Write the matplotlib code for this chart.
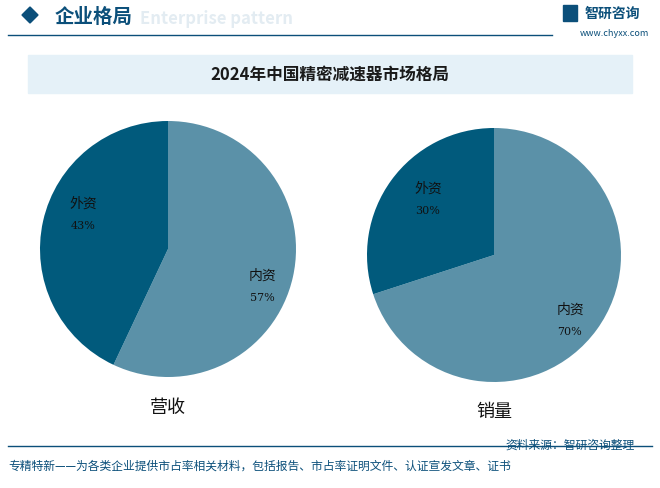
import matplotlib
matplotlib.use("Agg")
import matplotlib.pyplot as plt
from matplotlib.patches import Rectangle, Polygon

plt.rcParams['font.family'] = ['Noto Sans CJK SC']

title = "2024年中国精密减速器市场格局"
labels = ["内资", "外资"]
revenue = [57, 43]
sales = [70, 30]
pie_titles = ["营收", "销量"]
colors = ["#5b91a8", "#015a7c"]

fig = plt.figure(figsize=(6.6, 4.89), dpi=100)
W, H = 660, 489
bg = fig.add_axes([0, 0, 1, 1])
bg.set_xlim(0, W); bg.set_ylim(H, 0); bg.axis("off")

# header
bg.add_patch(Polygon([(22, 16), (30, 8), (38, 16), (30, 24)], color="#0b4f7a"))
bg.text(140, 19, "Enterprise pattern", fontsize=12, color="#e3ecf2", va="center", fontweight="bold")
bg.text(55, 17, "企业格局", fontsize=14, fontweight="bold", color="#0b4f7a", va="center")
bg.plot([8, 552], [36, 36], color="#0b4f7a", lw=1)
bg.text(585, 14, "智研咨询", fontsize=10, fontweight="bold", color="#0b4f7a", va="center")
bg.add_patch(Rectangle((563, 6), 14, 16, color="#0b4f7a"))
bg.text(614, 34, "www.chyxx.com", fontsize=6.5, color="#0b4f7a", va="center", ha="center")

# title band
bg.add_patch(Rectangle((28, 56), 604, 38, color="#e5f1f8"))
bg.text(330, 75, title, fontsize=12, fontweight="bold", color="#1a1a1a", ha="center", va="center")

# footer
bg.plot([8, 652], [447, 447], color="#0b4f7a", lw=1)
bg.text(505, 445, "资料来源：智研咨询整理", fontsize=8.5, color="#0b4f7a", va="center")
bg.text(8, 466, "专精特新——为各类企业提供市占率相关材料，包括报告、市占率证明文件、认证宣发文章、证书",
        fontsize=8.5, color="#0b4f7a", va="center")

top = fig.add_axes([0, 0, 1, 1], zorder=5)
top.set_xlim(0, W); top.set_ylim(H, 0); top.axis("off")

def draw(cx, cy, r, vals, lpos):
    ax = fig.add_axes([(cx - r) / W, 1 - (cy + r) / H, 2 * r / W, 2 * r / H])
    ax.pie(vals, colors=colors, startangle=90, counterclock=False)
    ax.set_xlim(-1, 1); ax.set_ylim(-1, 1)
    ax.set_aspect("equal")
    for (x, y), lab, v in zip(lpos, labels, vals):
        top.text(x, y, lab, fontsize=10, ha="center", va="center", color="#111")
        top.text(x, y + 22, f"{v}%", fontsize=8, ha="center", va="center", color="#111",
                 family="DejaVu Serif")

draw(168, 250, 128, revenue, [(262, 276), (83, 204)])
draw(494, 256, 127, sales, [(570, 310), (428, 189)])
top.text(168, 408, pie_titles[0], fontsize=13, ha="center", va="center", color="#111")
top.text(494, 412, pie_titles[1], fontsize=13, ha="center", va="center", color="#111")

fig.savefig("out.png", dpi=100)
